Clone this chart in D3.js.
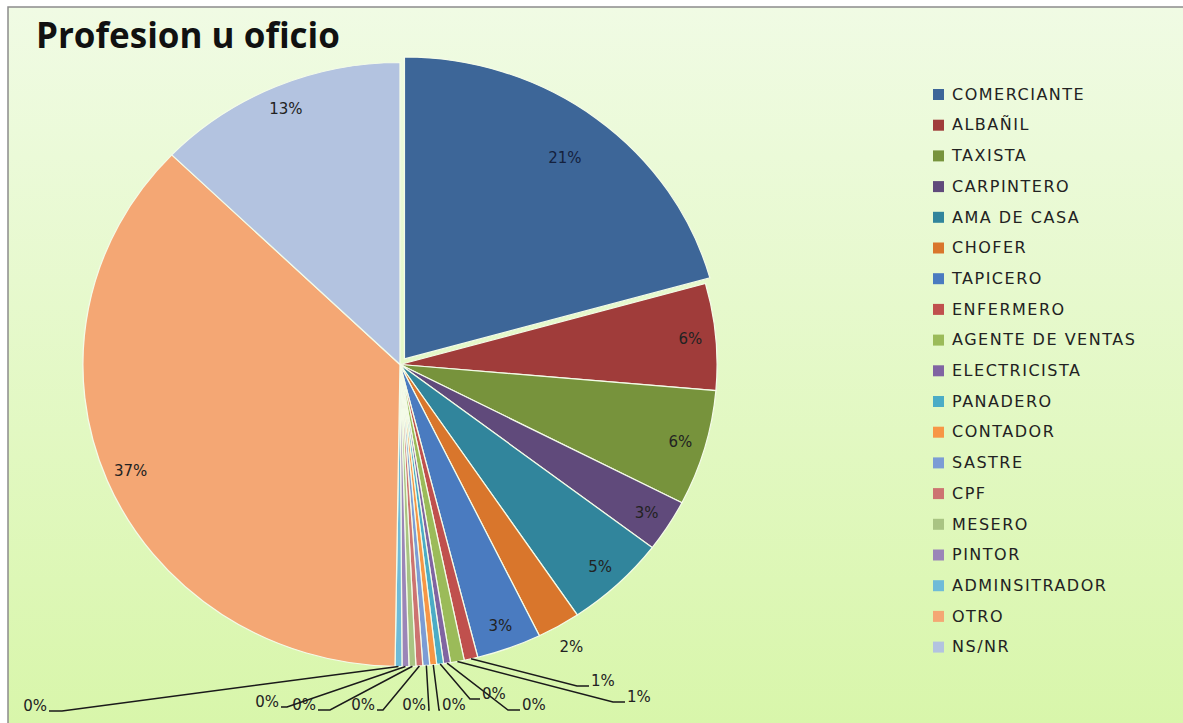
<!DOCTYPE html>
<html>
<head>
<meta charset="utf-8">
<script src="https://cdn.jsdelivr.net/npm/d3@7"></script>
<style>
  body { margin: 0; background: #fff; }
  text { font-family: "DejaVu Sans", sans-serif; }
</style>
</head>
<body>
<div id="chart"></div>
<script>
// data (share of answers, %)
const categories = ['COMERCIANTE', 'ALBAÑIL', 'TAXISTA', 'CARPINTERO', 'AMA DE CASA', 'CHOFER',
    'TAPICERO', 'ENFERMERO', 'AGENTE DE VENTAS', 'ELECTRICISTA', 'PANADERO', 'CONTADOR',
    'SASTRE', 'CPF', 'MESERO', 'PINTOR', 'ADMINSITRADOR', 'OTRO', 'NS/NR'];
const shares = [20.7, 5.7, 6.2, 2.8, 5.2, 2.2, 3.3, 0.7, 0.7, 0.35, 0.35, 0.35,
    0.35, 0.35, 0.35, 0.35, 0.35, 37.0, 12.8];
const colors = ['#3d6698', '#a03c3a', '#77933c', '#604a7b', '#31859c', '#d9762c',
    '#4a7bc0', '#c0504d', '#9bbb59', '#8064a2', '#4bacc6', '#f79646',
    '#7c9cd5', '#cd7371', '#a9c483', '#9b85b8', '#6fbbd8', '#f4a774', '#b3c3e0'];

// where the leader lines of the tiny slices end: [elbow x, elbow y, horizontal tail]
const leaderLayout = {
    7: [577, 686, 12], 8: [613, 702, 12], 9: [508, 710, 12], 10: [470, 699, 10],
    11: [439, 710, 1], 12: [429, 710, -1], 13: [383, 710, -6], 14: [330, 710, -12],
    15: [287, 707, -6], 16: [62, 711, -13]
};

const width = 1183, height = 723;
const cx = 400, cy = 364.5, r = 302, sx = 1.05;

const svg = d3.select('#chart').append('svg')
    .attr('width', width)
    .attr('height', height);

const grad = svg.append('defs').append('linearGradient')
    .attr('id', 'bg').attr('x1', 0).attr('y1', 0).attr('x2', 0).attr('y2', 1);
grad.append('stop').attr('offset', 0).attr('stop-color', '#f0fbe4');
grad.append('stop').attr('offset', 1).attr('stop-color', '#d8f6aa');

svg.append('rect')
    .attr('x', 8).attr('y', 7)
    .attr('width', width).attr('height', height)
    .attr('fill', 'url(#bg)')
    .attr('stroke', '#8c8c8c')
    .attr('stroke-width', 1.5);

svg.append('text')
    .attr('x', 36).attr('y', 48)
    .style('font-family', '"Open Sans", sans-serif')
    .style('font-weight', 'bold')
    .style('font-size', '35px')
    .attr('fill', '#111')
    .text('Profesion u oficio');

const total = d3.sum(shares);
const pie = d3.pie().sort(null).value(d => d.value);
const arcs = pie(categories.map((c, i) => ({ name: c, value: shares[i], i })));
const arc = d3.arc().innerRadius(0).outerRadius(r);

// point on the (slightly wide) pie at angle a, radius rho
function pt(a, rho) {
    return [cx + Math.sin(a) * rho * sx, cy - Math.cos(a) * rho];
}

const pieG = svg.append('g')
    .attr('transform', 'translate(' + cx + ',' + cy + ') scale(' + sx + ',1)');

pieG.selectAll('path')
    .data(arcs)
    .enter()
    .append('path')
    .attr('d', arc)
    .attr('fill', (d, i) => colors[i])
    .attr('stroke', '#f4fbe8')
    .attr('stroke-width', 1.2)
    .attr('transform', function (d, i) {
        if (i !== 0) return null;
        const m = (d.startAngle + d.endAngle) / 2;
        return 'translate(' + (Math.sin(m) * 7) + ',' + (-Math.cos(m) * 7) + ')';
    });

const labels = svg.append('g').style('font-size', '15px');

arcs.forEach(function (d, i) {
    const pct = Math.round(d.value / total * 100) + '%';
    const m = (d.startAngle + d.endAngle) / 2;
    const frac = d.value / total;
    if (leaderLayout[i]) {
        const [ex, ey, tail] = leaderLayout[i];
        const p0 = pt(m, r);
        labels.append('path')
            .attr('d', d3.line()([p0, [ex, ey], [ex + tail, ey]]))
            .attr('fill', 'none')
            .attr('stroke', '#1a1a1a')
            .attr('stroke-width', 1.5);
        labels.append('text')
            .attr('x', ex + tail + (tail > 0 ? 2 : -2))
            .attr('y', ey - 5)
            .attr('dy', '0.35em')
            .attr('text-anchor', tail > 0 ? 'start' : 'end')
            .attr('fill', '#222')
            .text(pct);
    } else {
        let rho = frac < 0.025 ? r * 1.08 : r * 0.92;
        if (i === 0) rho = r * 0.86;
        const p = pt(m, rho);
        labels.append('text')
            .attr('x', p[0])
            .attr('y', p[1])
            .attr('dy', '0.35em')
            .attr('text-anchor', 'middle')
            .attr('fill', i === 0 ? '#14213d' : '#222')
            .text(pct);
    }
});

const legend = svg.append('g').attr('transform', 'translate(933, 94)');
const step = 30.7;
const item = legend.selectAll('g')
    .data(categories)
    .enter()
    .append('g')
    .attr('transform', (d, i) => 'translate(0,' + (i * step) + ')');
item.append('rect')
    .attr('x', 0).attr('y', -5)
    .attr('width', 11).attr('height', 11)
    .attr('fill', (d, i) => colors[i]);
item.append('text')
    .attr('x', 19).attr('y', 0)
    .attr('dy', '0.36em')
    .style('font-size', '16px')
    .style('letter-spacing', '1.5px')
    .attr('fill', '#222')
    .text(d => d);
</script>
</body>
</html>
